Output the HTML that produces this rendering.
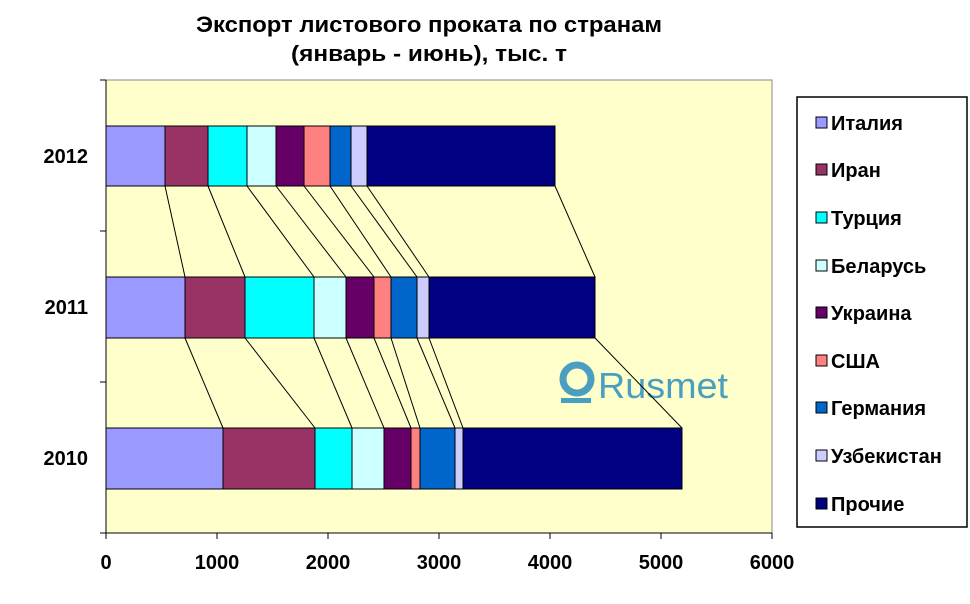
<!DOCTYPE html>
<html><head><meta charset="utf-8"><style>
html,body{margin:0;padding:0;background:#fff;}
svg{display:block;font-family:"Liberation Sans",sans-serif;font-weight:bold;}
</style></head><body>
<svg width="970" height="604" viewBox="0 0 970 604" xmlns="http://www.w3.org/2000/svg">
<text x="429" y="32" font-size="22" text-anchor="middle" textLength="466" lengthAdjust="spacingAndGlyphs">Экспорт листового проката по странам</text>
<text x="429" y="61" font-size="22" text-anchor="middle" textLength="276" lengthAdjust="spacingAndGlyphs">(январь - июнь), тыс. т</text>
<rect x="106" y="80" width="666" height="453" fill="#FFFFCC" stroke="#888" stroke-width="1"/>
<!-- watermark -->
<g fill="#4a9fc0">
<circle cx="577" cy="379" r="14" fill="none" stroke="#4a9fc0" stroke-width="7"/>
<rect x="561" y="398" width="30" height="5"/>
<text x="598" y="398" font-size="36" font-weight="normal" textLength="130" lengthAdjust="spacingAndGlyphs">Rusmet</text>
</g>
<!-- connectors -->
<g stroke="#000" stroke-width="1">
<line x1="165" y1="186" x2="185" y2="277"/><line x1="208" y1="186" x2="245" y2="277"/><line x1="247" y1="186" x2="314" y2="277"/><line x1="276" y1="186" x2="346" y2="277"/><line x1="304" y1="186" x2="374" y2="277"/><line x1="330" y1="186" x2="391" y2="277"/><line x1="351" y1="186" x2="417" y2="277"/><line x1="367" y1="186" x2="429" y2="277"/><line x1="555" y1="186" x2="595" y2="277"/>
<line x1="185" y1="338" x2="223" y2="428"/><line x1="245" y1="338" x2="315" y2="428"/><line x1="314" y1="338" x2="352" y2="428"/><line x1="346" y1="338" x2="384" y2="428"/><line x1="374" y1="338" x2="411" y2="428"/><line x1="391" y1="338" x2="420" y2="428"/><line x1="417" y1="338" x2="455" y2="428"/><line x1="429" y1="338" x2="463" y2="428"/><line x1="595" y1="338" x2="682" y2="428"/>
</g>
<g stroke="#000" stroke-width="1">
<!-- 2012 -->
<rect x="106" y="126" width="59" height="60" fill="#9999FF"/><rect x="165" y="126" width="43" height="60" fill="#993366"/><rect x="208" y="126" width="39" height="60" fill="#00FFFF"/><rect x="247" y="126" width="29" height="60" fill="#CCFFFF"/><rect x="276" y="126" width="28" height="60" fill="#660066"/><rect x="304" y="126" width="26" height="60" fill="#FF8080"/><rect x="330" y="126" width="21" height="60" fill="#0066CC"/><rect x="351" y="126" width="16" height="60" fill="#CCCCFF"/><rect x="367" y="126" width="188" height="60" fill="#000080"/>
<!-- 2011 -->
<rect x="106" y="277" width="79" height="61" fill="#9999FF"/><rect x="185" y="277" width="60" height="61" fill="#993366"/><rect x="245" y="277" width="69" height="61" fill="#00FFFF"/><rect x="314" y="277" width="32" height="61" fill="#CCFFFF"/><rect x="346" y="277" width="28" height="61" fill="#660066"/><rect x="374" y="277" width="17" height="61" fill="#FF8080"/><rect x="391" y="277" width="26" height="61" fill="#0066CC"/><rect x="417" y="277" width="12" height="61" fill="#CCCCFF"/><rect x="429" y="277" width="166" height="61" fill="#000080"/>
<!-- 2010 -->
<rect x="106" y="428" width="117" height="61" fill="#9999FF"/><rect x="223" y="428" width="92" height="61" fill="#993366"/><rect x="315" y="428" width="37" height="61" fill="#00FFFF"/><rect x="352" y="428" width="32" height="61" fill="#CCFFFF"/><rect x="384" y="428" width="27" height="61" fill="#660066"/><rect x="411" y="428" width="9" height="61" fill="#FF8080"/><rect x="420" y="428" width="35" height="61" fill="#0066CC"/><rect x="455" y="428" width="8" height="61" fill="#CCCCFF"/><rect x="463" y="428" width="219" height="61" fill="#000080"/>
</g>
<!-- axes -->
<g stroke="#000" stroke-width="1">
<line x1="106" y1="80" x2="106" y2="533"/><line x1="100" y1="533" x2="772" y2="533"/>
<line x1="100" y1="80" x2="106" y2="80"/><line x1="100" y1="231" x2="106" y2="231"/><line x1="100" y1="382" x2="106" y2="382"/>
<line x1="106" y1="533" x2="106" y2="539"/><line x1="217" y1="533" x2="217" y2="539"/><line x1="328" y1="533" x2="328" y2="539"/><line x1="439" y1="533" x2="439" y2="539"/><line x1="550" y1="533" x2="550" y2="539"/><line x1="661" y1="533" x2="661" y2="539"/><line x1="772" y1="533" x2="772" y2="539"/>
</g>
<g font-size="20" text-anchor="middle">
<text x="106" y="569">0</text><text x="217" y="569">1000</text><text x="328" y="569">2000</text><text x="439" y="569">3000</text><text x="550" y="569">4000</text><text x="661" y="569">5000</text><text x="772" y="569">6000</text>
</g>
<g font-size="20" text-anchor="end">
<text x="88" y="163">2012</text><text x="88" y="314">2011</text><text x="88" y="465">2010</text>
</g>
<!-- legend -->
<rect x="797" y="97" width="170" height="430" fill="#fff" stroke="#000" stroke-width="1.5"/>
<g stroke="#000" stroke-width="1" font-size="20">
<rect x="816" y="117" width="11" height="11" fill="#9999FF"/>
<rect x="816" y="164" width="11" height="11" fill="#993366"/>
<rect x="816" y="212" width="11" height="11" fill="#00FFFF"/>
<rect x="816" y="260" width="11" height="11" fill="#CCFFFF"/>
<rect x="816" y="307" width="11" height="11" fill="#660066"/>
<rect x="816" y="355" width="11" height="11" fill="#FF8080"/>
<rect x="816" y="402" width="11" height="11" fill="#0066CC"/>
<rect x="816" y="450" width="11" height="11" fill="#CCCCFF"/>
<rect x="816" y="498" width="11" height="11" fill="#000080"/>
</g>
<g font-size="20">
<text x="831" y="130">Италия</text>
<text x="831" y="177">Иран</text>
<text x="831" y="225">Турция</text>
<text x="831" y="273">Беларусь</text>
<text x="831" y="320">Украина</text>
<text x="831" y="368">США</text>
<text x="831" y="415">Германия</text>
<text x="831" y="463">Узбекистан</text>
<text x="831" y="511">Прочие</text>
</g>
</svg>
</body></html>
